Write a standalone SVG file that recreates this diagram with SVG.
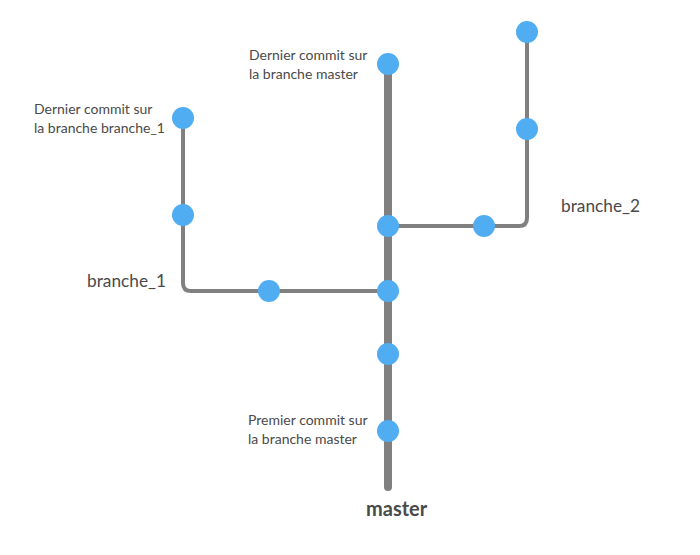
<svg xmlns="http://www.w3.org/2000/svg" width="700" height="555" viewBox="0 0 700 555">
<style>
.line{fill:none;stroke:#808080;stroke-linecap:round;stroke-linejoin:round}
.thin{stroke-width:4}
.thick{stroke-width:8}
.node{fill:#50adf2}
text{font-family:Lato,"Open Sans","Liberation Sans",sans-serif;fill:#4a4a4a}
.note{font-size:14px}
.lbl{font-size:17.3px}
.main{font-size:20px;font-weight:bold}
</style>
<rect width="700" height="555" fill="#fff"/>
<g id="connectors">
<path class="line thin" d="M388,291 H191 Q183,291 183,283 V118"/>
<path class="line thin" d="M388,226 H519 Q527,226 527,218 V32"/>
<path class="line thick" d="M388,64 V487"/>
</g>
<g id="m1"><circle class="node" cx="388" cy="64" r="11"/></g>
<g id="m2"><circle class="node" cx="388" cy="226" r="11"/></g>
<g id="m3"><circle class="node" cx="388" cy="291" r="11"/></g>
<g id="m4"><circle class="node" cx="388" cy="354" r="11"/></g>
<g id="m5"><circle class="node" cx="388" cy="431" r="11"/></g>
<g id="b1a"><circle class="node" cx="269" cy="291" r="11"/></g>
<g id="b1b"><circle class="node" cx="183" cy="215" r="11"/></g>
<g id="b1c"><circle class="node" cx="183" cy="118" r="11"/></g>
<g id="b2a"><circle class="node" cx="484" cy="226" r="11"/></g>
<g id="b2b"><circle class="node" cx="527" cy="129" r="11"/></g>
<g id="b2c"><circle class="node" cx="527" cy="32" r="11"/></g>
<g id="labels">
<text class="note" x="34" y="114">Dernier commit sur</text>
<text class="note" x="34" y="133">la branche branche_1</text>
<text class="note" x="249" y="59.5">Dernier commit sur</text>
<text class="note" x="249" y="78.5">la branche master</text>
<text class="note" x="248" y="425">Premier commit sur</text>
<text class="note" x="248" y="444">la branche master</text>
<text class="lbl" x="87" y="287">branche_1</text>
<text class="lbl" x="561" y="212">branche_2</text>
<text class="main" x="366" y="516">master</text>
</g>
</svg>
